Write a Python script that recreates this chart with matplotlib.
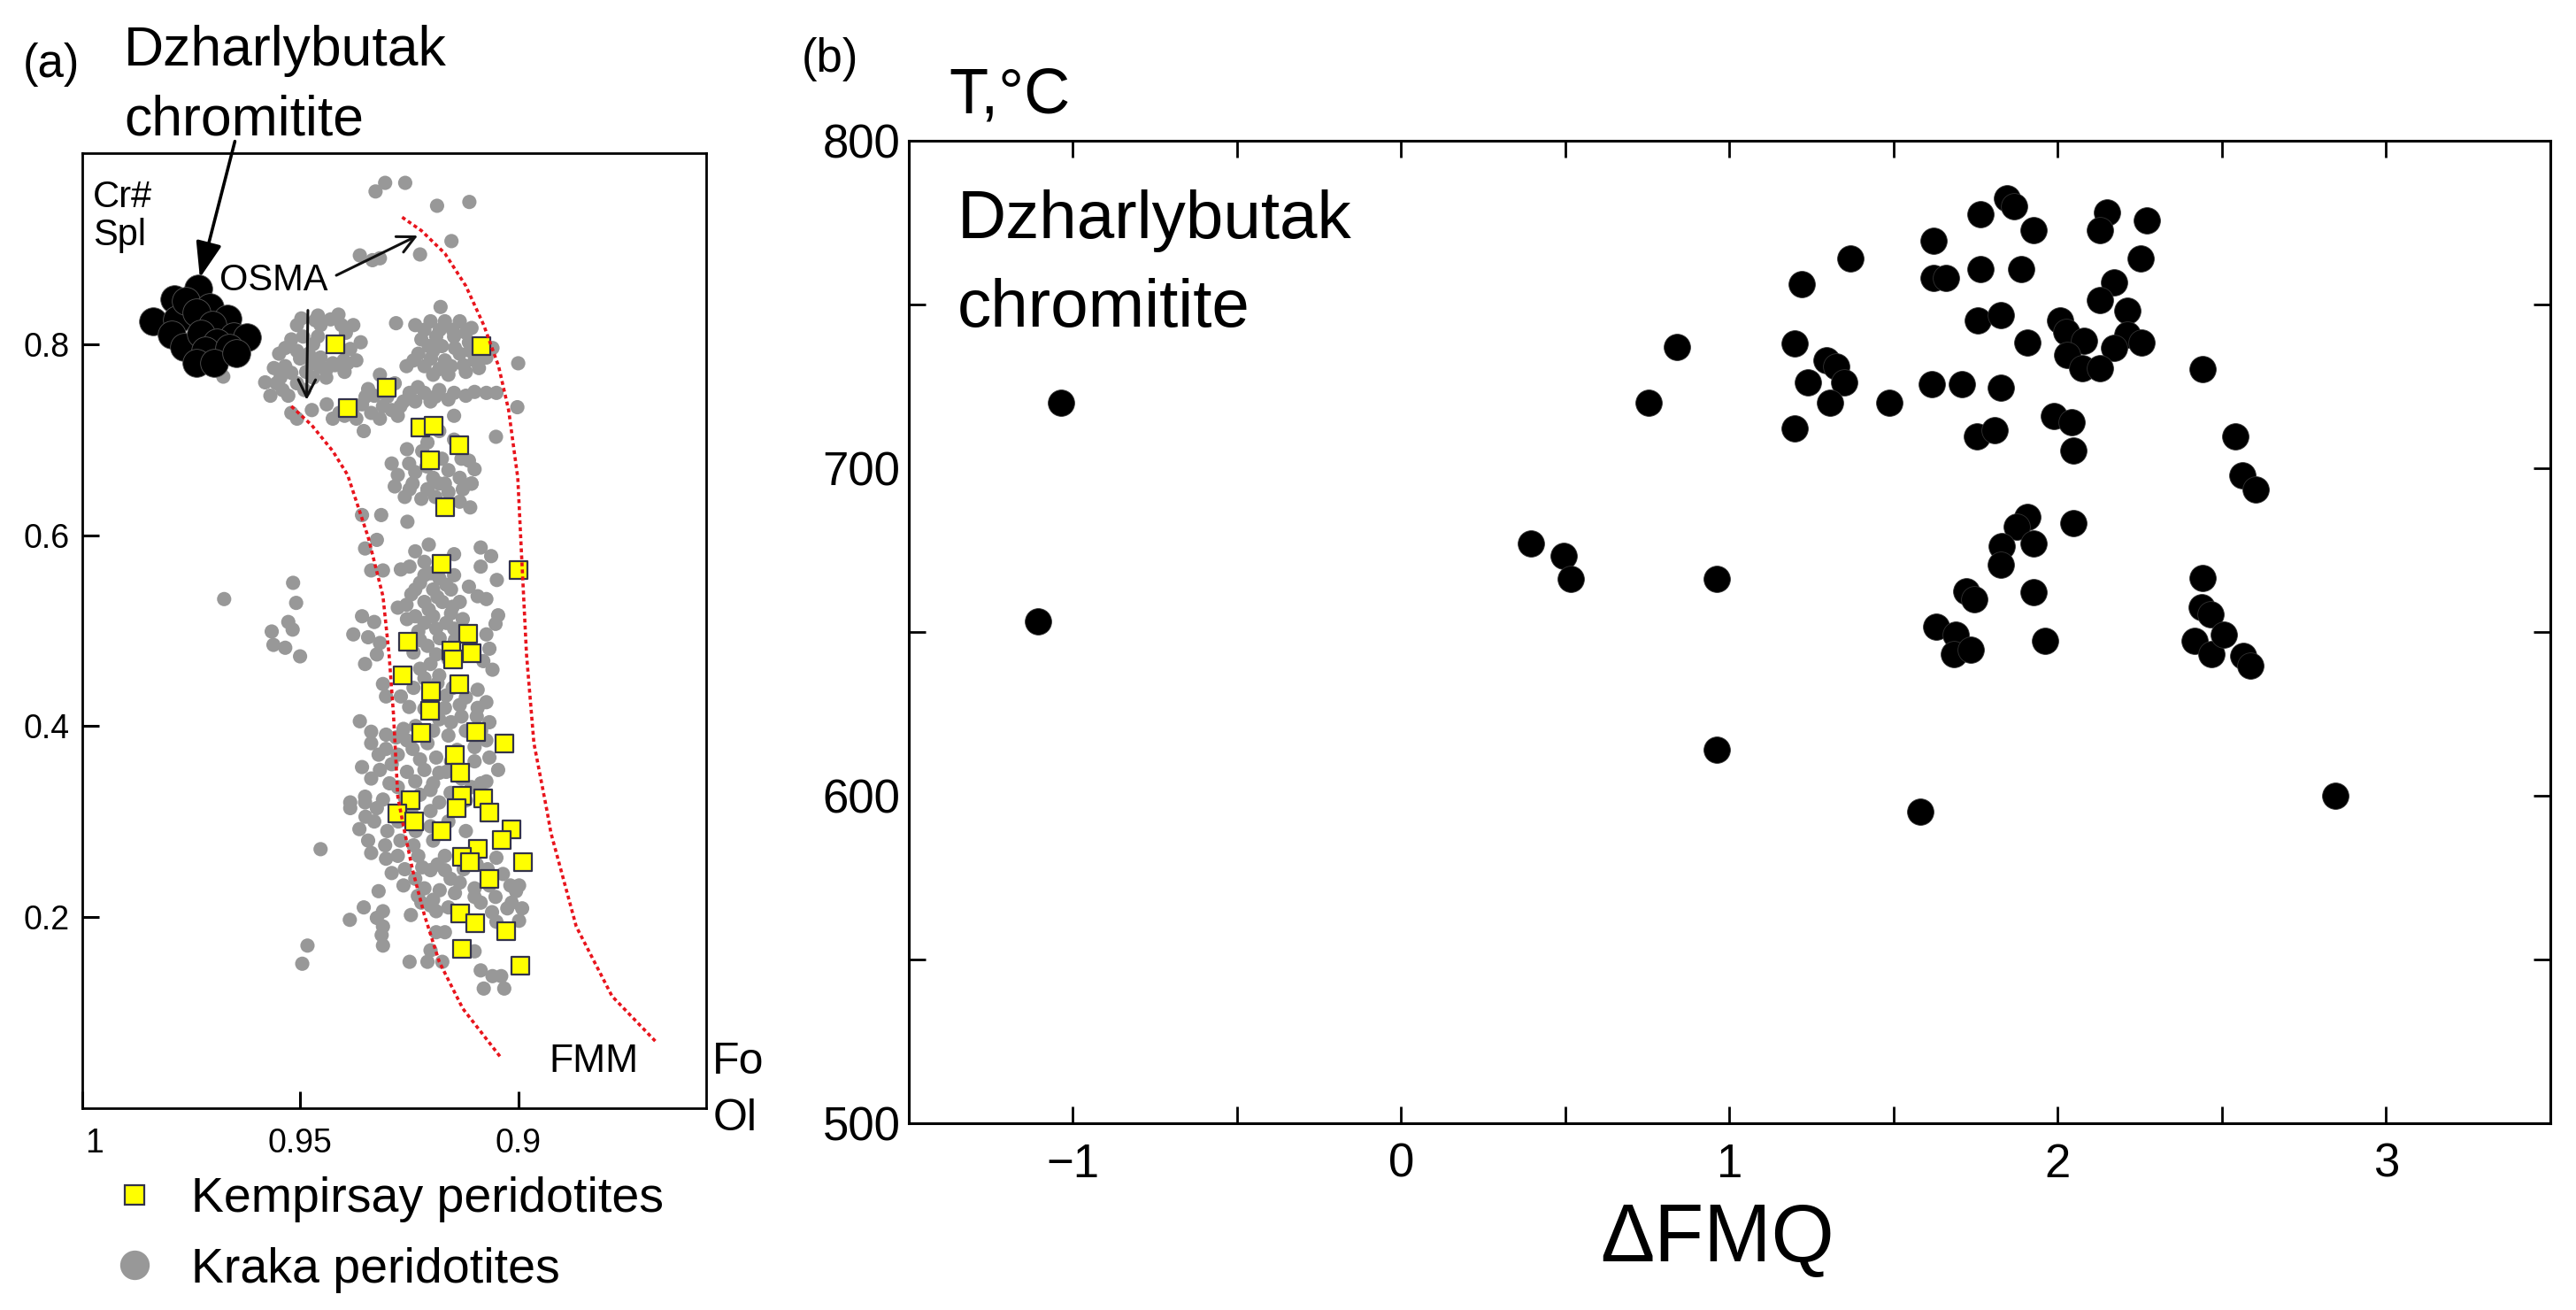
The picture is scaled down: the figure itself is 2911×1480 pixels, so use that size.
import numpy as np
import matplotlib
matplotlib.use("Agg")
import matplotlib.pyplot as plt
from matplotlib.lines import Line2D
from matplotlib.ticker import MultipleLocator
from matplotlib.transforms import ScaledTranslation

plt.rcParams['font.family'] = ['Liberation Sans', 'DejaVu Sans']

# ---------------- panel (a) data: Fo (olivine) vs Cr# (spinel) ----------------
# Dzharlybutak chromitite
dzh_fo = [0.9836, 0.9789, 0.9783, 0.9795, 0.9766, 0.9734, 0.9761, 0.9707, 0.9737, 0.9666,
          0.9700, 0.9727, 0.9653, 0.9622, 0.9690, 0.9717, 0.9663, 0.9737, 0.9696, 0.9646]
dzh_cr = [0.824, 0.847, 0.826, 0.810, 0.797, 0.858, 0.845, 0.839, 0.833, 0.827,
          0.820, 0.811, 0.808, 0.807, 0.802, 0.793, 0.796, 0.780, 0.780, 0.791]

# Kempirsay peridotites
kemp_fo = [0.9420, 0.9085, 0.9302, 0.9390, 0.9225, 0.9193, 0.9135, 0.9203, 0.9168, 0.9176,
           0.9000, 0.9252, 0.9115, 0.9154, 0.9107, 0.9149, 0.9264, 0.9136, 0.9200, 0.9203,
           0.9223, 0.9096, 0.9032, 0.9145, 0.9134, 0.9246, 0.9130, 0.9081, 0.9278, 0.9239,
           0.9176, 0.9142, 0.9066, 0.9015, 0.9037, 0.9093, 0.9130, 0.9110, 0.8990, 0.9066,
           0.9134, 0.9098, 0.9027, 0.9128, 0.8995]
kemp_cr = [0.800, 0.798, 0.754, 0.733, 0.713, 0.715, 0.694, 0.678, 0.629, 0.570,
           0.563, 0.488, 0.497, 0.479, 0.476, 0.470, 0.453, 0.444, 0.436, 0.416,
           0.393, 0.394, 0.382, 0.370, 0.351, 0.322, 0.327, 0.324, 0.308, 0.300,
           0.290, 0.314, 0.309, 0.292, 0.281, 0.271, 0.263, 0.257, 0.257, 0.240,
           0.204, 0.193, 0.185, 0.167, 0.149]

# Kraka peridotites (Fo, Cr#)
kraka_points = [
    (0.9327, 0.960), (0.9305, 0.969), (0.9259, 0.969), (0.9186, 0.945), (0.9112, 0.949),
    (0.9153, 0.908), (0.9225, 0.894), (0.9363, 0.893), (0.9334, 0.888), (0.9317, 0.890),
    (0.9676, 0.766), (0.9178, 0.839), (0.9280, 0.822), (0.9000, 0.780), (0.9002, 0.734),
    (0.9051, 0.703), (0.9120, 0.771), (0.9354, 0.709), (0.9147, 0.725), (0.9073, 0.749),
    (0.9050, 0.749), (0.9473, 0.731), (0.9520, 0.728), (0.9507, 0.722),
    # upper left blob
    (0.9497, 0.827), (0.9459, 0.830), (0.9412, 0.831), (0.9378, 0.820), (0.9361, 0.802),
    (0.9371, 0.783), (0.9398, 0.771), (0.9439, 0.774), (0.9473, 0.780), (0.9459, 0.808),
    (0.9493, 0.808), (0.9507, 0.793), (0.9548, 0.790), (0.9534, 0.777), (0.9554, 0.759),
    (0.9568, 0.746), (0.9527, 0.746), (0.9507, 0.759), (0.9486, 0.771), (0.9453, 0.786),
    (0.9425, 0.780), (0.9391, 0.780), (0.9534, 0.796), (0.9453, 0.820), (0.9405, 0.820),
    (0.9507, 0.820),
    (0.9470, 0.800), (0.9480, 0.790), (0.9465, 0.825), (0.9430, 0.826), (0.9395, 0.812),
    (0.9385, 0.795), (0.9400, 0.783), (0.9420, 0.778), (0.9455, 0.776), (0.9520, 0.770),
    (0.9545, 0.765), (0.9500, 0.785), (0.9520, 0.805), (0.9560, 0.775), (0.9540, 0.752),
    (0.9580, 0.760), (0.9490, 0.752), (0.9470, 0.765), (0.9440, 0.765),
    # upper right blob
    (0.9236, 0.820), (0.9201, 0.824), (0.9168, 0.824), (0.9134, 0.824), (0.9107, 0.817),
    (0.9222, 0.805), (0.9188, 0.808), (0.9147, 0.808), (0.9113, 0.802), (0.9229, 0.790),
    (0.9195, 0.793), (0.9168, 0.783), (0.9134, 0.790), (0.9100, 0.783), (0.9256, 0.777),
    (0.9215, 0.777), (0.9181, 0.774), (0.9154, 0.777), (0.9073, 0.786), (0.9059, 0.796),
    (0.9215, 0.815), (0.9180, 0.815), (0.9150, 0.815), (0.9120, 0.812), (0.9205, 0.798),
    (0.9175, 0.798), (0.9145, 0.796), (0.9110, 0.793), (0.9240, 0.783), (0.9200, 0.785),
    (0.9125, 0.778), (0.9090, 0.775), (0.9160, 0.768), (0.9195, 0.768),
    # middle band
    (0.9344, 0.753), (0.9317, 0.768), (0.9283, 0.759), (0.9263, 0.740), (0.9290, 0.731),
    (0.9337, 0.728), (0.9358, 0.737), (0.9439, 0.737), (0.9425, 0.722), (0.9398, 0.725),
    (0.9371, 0.722), (0.9317, 0.722), (0.9276, 0.725), (0.9330, 0.746),
    (0.9249, 0.749), (0.9215, 0.749), (0.9181, 0.752), (0.9147, 0.749), (0.9120, 0.746),
    (0.9201, 0.740), (0.9236, 0.740),
    (0.9300, 0.745), (0.9350, 0.745), (0.9380, 0.730), (0.9410, 0.728), (0.9310, 0.735),
    (0.9270, 0.735), (0.9230, 0.755), (0.9190, 0.745), (0.9160, 0.742), (0.9100, 0.750),
    (0.9181, 0.709), (0.9208, 0.697), (0.9147, 0.700), (0.9113, 0.678), (0.9100, 0.669),
    (0.9290, 0.675), (0.9276, 0.663), (0.9236, 0.666), (0.9195, 0.660), (0.9168, 0.654),
    (0.9134, 0.660), (0.9107, 0.654), (0.9249, 0.648), (0.9208, 0.648),
    (0.9220, 0.688), (0.9250, 0.675), (0.9210, 0.672), (0.9175, 0.680), (0.9160, 0.668),
    (0.9190, 0.640), (0.9160, 0.645), (0.9260, 0.640), (0.9130, 0.680), (0.9255, 0.690),
    # 0.65 - 0.32
    (0.9283, 0.651), (0.9242, 0.654), (0.9208, 0.648), (0.9181, 0.654), (0.9127, 0.648),
    (0.9107, 0.654), (0.9110, 0.629), (0.9134, 0.635), (0.9222, 0.638),
    (0.9358, 0.621), (0.9314, 0.621), (0.9254, 0.614),
    (0.9324, 0.595), (0.9351, 0.586), (0.9337, 0.563), (0.9310, 0.563), (0.9269, 0.564),
    (0.9516, 0.550), (0.9674, 0.533), (0.9509, 0.529), (0.9527, 0.509), (0.9517, 0.501),
    (0.9565, 0.499), (0.9561, 0.485), (0.9534, 0.482), (0.9500, 0.473),
    (0.9086, 0.587), (0.9062, 0.578), (0.9086, 0.567), (0.9049, 0.553), (0.9046, 0.516),
    (0.9052, 0.507),
    (0.9236, 0.583), (0.9205, 0.590), (0.9147, 0.580), (0.9249, 0.567), (0.9215, 0.558),
    (0.9181, 0.555), (0.9147, 0.558), (0.9236, 0.543), (0.9195, 0.543), (0.9154, 0.543),
    (0.9113, 0.546), (0.9093, 0.536), (0.9073, 0.533), (0.9256, 0.527), (0.9215, 0.530),
    (0.9174, 0.530), (0.9134, 0.530), (0.9236, 0.515), (0.9195, 0.515), (0.9154, 0.518),
    (0.9127, 0.512), (0.9276, 0.524), (0.9229, 0.499), (0.9188, 0.502), (0.9147, 0.502),
    (0.9073, 0.496), (0.9066, 0.481), (0.9059, 0.459), (0.9080, 0.468), (0.9208, 0.484),
    (0.9188, 0.475), (0.9201, 0.465),
    (0.9215, 0.572), (0.9180, 0.570), (0.9200, 0.560), (0.9165, 0.548), (0.9225, 0.550),
    (0.9185, 0.535), (0.9150, 0.525), (0.9245, 0.538), (0.9205, 0.522), (0.9165, 0.508),
    (0.9215, 0.508), (0.9255, 0.512), (0.9180, 0.492), (0.9225, 0.490), (0.9145, 0.490),
    (0.9240, 0.477), (0.9160, 0.470), (0.9225, 0.460), (0.9185, 0.445), (0.9150, 0.440),
    (0.9240, 0.440), (0.9120, 0.430), (0.9205, 0.430), (0.9165, 0.432), (0.9250, 0.420),
    (0.9215, 0.418), (0.9130, 0.410), (0.9095, 0.410), (0.9195, 0.395), (0.9235, 0.400),
    (0.9160, 0.390), (0.9120, 0.395), (0.9085, 0.395), (0.9255, 0.385), (0.9140, 0.375),
    (0.9100, 0.378), (0.9225, 0.365), (0.9165, 0.352), (0.9130, 0.345), (0.9255, 0.352),
    (0.9290, 0.360), (0.9195, 0.340), (0.9155, 0.330), (0.9225, 0.328), (0.9260, 0.325),
    (0.9120, 0.322), (0.9295, 0.340), (0.9320, 0.370), (0.9280, 0.388), (0.9085, 0.340),
    (0.9358, 0.515), (0.9330, 0.509), (0.9378, 0.496), (0.9344, 0.493), (0.9317, 0.487),
    (0.9324, 0.475), (0.9351, 0.465),
    (0.9310, 0.444), (0.9303, 0.431), (0.9269, 0.431), (0.9215, 0.450), (0.9181, 0.453),
    (0.9093, 0.438), (0.9073, 0.425), (0.9093, 0.419), (0.9134, 0.422), (0.9168, 0.419),
    (0.9181, 0.407), (0.9154, 0.404), (0.9066, 0.404), (0.9073, 0.385), (0.9363, 0.405),
    (0.9263, 0.397),
    (0.9337, 0.394), (0.9303, 0.391), (0.9337, 0.382), (0.9303, 0.376), (0.9276, 0.370),
    (0.9242, 0.376), (0.9208, 0.382), (0.9188, 0.367), (0.9215, 0.354), (0.9181, 0.351),
    (0.9154, 0.363), (0.9100, 0.363), (0.9066, 0.367), (0.9046, 0.354), (0.9073, 0.342),
    (0.9107, 0.336),
    (0.9358, 0.357), (0.9317, 0.354), (0.9337, 0.345), (0.9351, 0.326), (0.9310, 0.323),
    (0.9385, 0.320), (0.9276, 0.336), (0.9236, 0.342), (0.9201, 0.333), (0.9181, 0.320),
    # lower part
    (0.9385, 0.314), (0.9351, 0.320), (0.9324, 0.314), (0.9364, 0.292), (0.9344, 0.280),
    (0.9337, 0.267), (0.9303, 0.261), (0.9276, 0.264), (0.9453, 0.271), (0.9290, 0.246),
    (0.9263, 0.233), (0.9236, 0.240), (0.9201, 0.249), (0.9168, 0.249), (0.9229, 0.264),
    (0.9195, 0.280), (0.9201, 0.295), (0.9201, 0.311), (0.9168, 0.264), (0.9134, 0.236),
    (0.9100, 0.230), (0.9066, 0.233), (0.9052, 0.221), (0.9018, 0.233), (0.8998, 0.233),
    (0.9005, 0.227), (0.9025, 0.209), (0.8991, 0.209), (0.8998, 0.196), (0.9100, 0.221),
    (0.9086, 0.215), (0.9320, 0.227), (0.9354, 0.210), (0.9386, 0.197),
    (0.9310, 0.206), (0.9324, 0.199), (0.9310, 0.190), (0.9313, 0.181), (0.9310, 0.170),
    (0.9246, 0.202), (0.9201, 0.212), (0.9188, 0.206), (0.9188, 0.184), (0.9168, 0.184),
    (0.9201, 0.165), (0.9208, 0.153), (0.9249, 0.153), (0.9174, 0.153), (0.9100, 0.164),
    (0.9086, 0.144), (0.9059, 0.138), (0.9039, 0.138), (0.9079, 0.125), (0.9032, 0.125),
    (0.9483, 0.170), (0.9495, 0.151), (0.9222, 0.215),
    (0.9245, 0.310), (0.9275, 0.300), (0.9235, 0.290), (0.9270, 0.280), (0.9160, 0.300),
    (0.9120, 0.290), (0.9240, 0.275), (0.9260, 0.250), (0.9220, 0.252), (0.9185, 0.255),
    (0.9155, 0.240), (0.9125, 0.250), (0.9095, 0.255), (0.9050, 0.262), (0.9070, 0.250),
    (0.9035, 0.245), (0.9215, 0.230), (0.9180, 0.228), (0.9145, 0.225), (0.9195, 0.218),
    (0.9160, 0.210), (0.9230, 0.222), (0.9050, 0.195), (0.9015, 0.215), (0.9060, 0.205),
    (0.9330, 0.300), (0.9300, 0.290), (0.9305, 0.275), (0.9350, 0.305),
]
kraka_fo, kraka_cr = np.array(kraka_points).T

# OSMA boundary curves
osma_left_fo = [0.9520, 0.9473, 0.9425, 0.9391, 0.9344, 0.9310, 0.9296, 0.9286, 0.9276,
                0.9263, 0.9242, 0.9215, 0.9181, 0.9127, 0.9042]
osma_left_cr = [0.735, 0.715, 0.688, 0.663, 0.598, 0.536, 0.475, 0.413, 0.326,
                0.295, 0.249, 0.202, 0.153, 0.104, 0.054]
osma_right_fo = [0.9266, 0.9222, 0.9168, 0.9120, 0.9079, 0.9045, 0.9022, 0.9001, 0.8991,
                 0.8981, 0.8964, 0.8934, 0.8925, 0.8867, 0.8785, 0.8686]
osma_right_cr = [0.933, 0.919, 0.895, 0.861, 0.820, 0.777, 0.731, 0.660, 0.567,
                 0.475, 0.382, 0.311, 0.288, 0.190, 0.117, 0.070]

# ---------------- panel (b) data: dFMQ vs T ----------------
dfmq = [-1.036, -1.107, 0.395, 0.495, 0.515, 0.754, 0.840,
        1.220, 1.368, 1.197, 1.296, 1.324, 1.240, 1.350, 1.307, 1.199, 1.488,
        0.962, 0.962, 1.582, 2.845,
        1.763, 1.844, 1.867, 1.925, 1.621, 2.150, 2.127, 2.270, 2.251, 1.621,
        1.660, 1.763, 1.888, 2.171, 2.128, 2.211, 1.756, 1.826, 2.006, 2.027,
        2.080, 2.213, 2.254, 2.171, 1.908, 2.029, 2.074, 2.128, 2.441, 1.617,
        1.709, 1.826, 1.987, 2.042, 2.047, 1.754, 1.808, 2.542, 2.562, 2.603,
        1.908, 1.876, 1.925, 1.829, 1.825, 2.047, 2.441,
        1.925, 1.720, 1.746, 1.629, 1.690, 1.683, 1.735, 1.962, 2.439, 2.465,
        2.418, 2.467, 2.505, 2.566, 2.587]
temp_c = [720, 653, 677, 673, 666, 720, 737,
          756, 764, 738, 733, 731, 726, 726, 720, 712, 720,
          666, 614, 595, 600,
          777.5, 782.3, 779.8, 772.6, 769.3, 778.0, 772.6, 775.5, 764.0, 757.9,
          757.9, 760.6, 760.6, 756.6, 751.2, 747.9, 745.1, 746.6, 745.1, 741.5,
          738.8, 740.6, 738.2, 736.7, 738.2, 734.5, 730.4, 730.4, 730.1, 725.6,
          725.6, 724.4, 715.8, 713.9, 705.2, 709.5, 711.5, 709.5, 697.6, 693.3,
          684.9, 682.1, 676.9, 676.2, 670.3, 683.2, 666.3,
          662.0, 662.2, 659.9, 651.5, 649.0, 643.1, 644.6, 647.2, 657.4, 655.4,
          647.2, 643.1, 649.0, 642.6, 639.5]

fo_ticks = [1.0, 0.95, 0.9]
fo_ticklabels = ['1', '0.95', '0.9']
cr_ticks = [0.2, 0.4, 0.6, 0.8]

grey = '#989898'
red = '#e8141c'

fig = plt.figure(figsize=(29.11, 14.80), dpi=100)

# ================= panel (a) =================
ax_a = fig.add_axes([0.0318, 0.1543, 0.2422, 0.7287])
ax_a.scatter(kraka_fo, kraka_cr, s=135, c=grey, edgecolors='none', zorder=2)
ax_a.scatter(kemp_fo, kemp_cr, s=210, marker='s', c='#ffff00', edgecolors='#33334a',
             linewidths=1.6, zorder=3)
ax_a.scatter(dzh_fo, dzh_cr, s=520, c='black', edgecolors='#555555', linewidths=0.6, zorder=4)
ax_a.plot(osma_left_fo, osma_left_cr, color=red, lw=2.6, ls=(0, (1.2, 1.0)), zorder=5)
ax_a.plot(osma_right_fo, osma_right_cr, color=red, lw=2.6, ls=(0, (1.2, 1.0)), zorder=5)

ax_a.set_xlim(1.0, 0.857)
ax_a.set_ylim(0, 1.0)
ax_a.set_xticks(fo_ticks)
ax_a.set_xticklabels(fo_ticklabels)
ax_a.set_yticks(cr_ticks)
ax_a.tick_params(direction='in', length=14, width=2.2, labelsize=27)
ax_a.tick_params(axis='x', pad=16)
ax_a.tick_params(axis='y', pad=10)
# the "1" label sits a little right of the corner in the original
lab1 = ax_a.get_xticklabels()[0]
lab1.set_transform(lab1.get_transform() + ScaledTranslation(10 / 72, 0, fig.dpi_scale_trans))
for sp in ax_a.spines.values():
    sp.set_linewidth(2.0)

ax_a.text(0.9975, 0.972, 'Cr#\nSpl', ha='left', va='top', fontsize=30, linespacing=1.1)
ax_a.text(0.9561, 0.867, 'OSMA', ha='center', va='center', fontsize=30, zorder=6)
ax_a.text(0.8826, 0.048, 'FMM', ha='center', va='center', fontsize=32)

# OSMA arrows
ax_a.annotate('', xy=(0.9225, 0.915), xytext=(0.9422, 0.871),
              arrowprops=dict(arrowstyle='->', lw=2.2, color='#111111', mutation_scale=35))
ax_a.annotate('', xy=(0.9485, 0.739), xytext=(0.9482, 0.838),
              arrowprops=dict(arrowstyle='->', lw=2.2, color='#111111', mutation_scale=35))
# chromitite pointer
ax_a.annotate('', xy=(0.9731, 0.867), xytext=(0.9648, 1.015), annotation_clip=False,
              arrowprops=dict(arrowstyle='-|>,head_length=0.55,head_width=0.2', lw=2.6,
                              color='black', mutation_scale=45))

fig.text(0.0089, 0.951, '(a)', fontsize=38, va='center', ha='left')
fig.text(0.0482, 0.950, 'Dzharlybutak', fontsize=45, va='baseline', ha='left')
fig.text(0.0482, 0.897, 'chromitite', fontsize=45, va='baseline', ha='left')
fig.text(0.2766, 0.189, 'Fo', fontsize=36, va='center', ha='left')
fig.text(0.2766, 0.146, 'Ol', fontsize=36, va='center', ha='left')

handles = [Line2D([], [], ls='none', marker='s', ms=16, mfc='#ffff00', mec='#33334a', mew=1.6),
           Line2D([], [], ls='none', marker='o', ms=24, mfc=grey, mec='none')]
fig.legend(handles, ['Kempirsay peridotites', 'Kraka peridotites'], loc='upper left',
           bbox_to_anchor=(0.0371, 0.117), frameon=False, fontsize=40,
           handlelength=0.8, handletextpad=0.75, labelspacing=0.5, borderpad=0.4,
           borderaxespad=0)

# ================= panel (b) =================
ax_b = fig.add_axes([0.3528, 0.1429, 0.6372, 0.7499])
ax_b.scatter(dfmq, temp_c, s=460, c='black', edgecolors='#333333', linewidths=0.6, zorder=3)
ax_b.set_xlim(-1.5, 3.5)
ax_b.set_ylim(500, 800)
ax_b.xaxis.set_major_locator(MultipleLocator(1))
ax_b.xaxis.set_minor_locator(MultipleLocator(0.5))
ax_b.yaxis.set_major_locator(MultipleLocator(100))
ax_b.yaxis.set_minor_locator(MultipleLocator(50))
ax_b.tick_params(which='both', direction='in', top=True, right=True, length=14, width=2.0)
ax_b.tick_params(axis='y', which='major', left=False)
ax_b.tick_params(axis='both', labelsize=38)
ax_b.tick_params(axis='x', pad=16)
ax_b.tick_params(axis='y', pad=7)
for sp in ax_b.spines.values():
    sp.set_linewidth(2.2)

fig.text(0.3717, 0.818, 'Dzharlybutak', fontsize=55, va='baseline', ha='left')
fig.text(0.3717, 0.751, 'chromitite', fontsize=55, va='baseline', ha='left')
fig.text(0.311, 0.955, '(b)', fontsize=38, va='center', ha='left')
fig.text(0.3683, 0.914, 'T,°C', fontsize=52, va='baseline', ha='left')
fig.text(0.6665, 0.037, 'ΔFMQ', fontsize=66, va='baseline', ha='center')

fig.savefig('out.png', dpi=100, facecolor='white')
